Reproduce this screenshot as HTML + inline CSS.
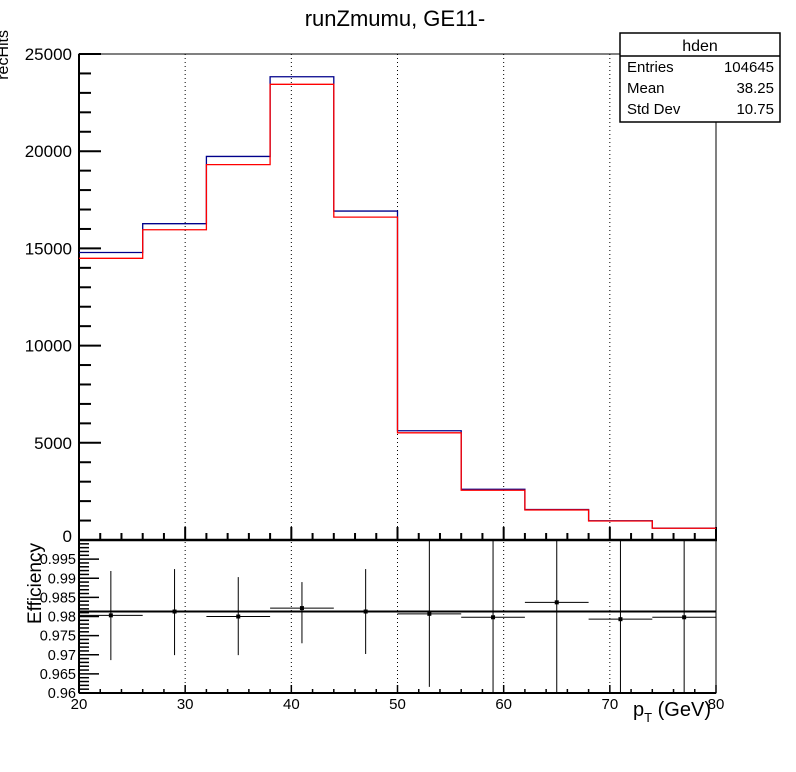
<!DOCTYPE html>
<html><head><meta charset="utf-8"><style>
html,body{margin:0;padding:0;background:#fff;}
svg{display:block;font-family:"Liberation Sans",Arial,sans-serif;}
</style></head><body>
<svg id="c" width="796" height="772" viewBox="0 0 796 772"></svg>
<script>
const binEdges=[20,26,32,38,44,50,56,62,68,74,80];
const denValues=[14790,16270,19730,23830,16920,5620,2610,1570,990,610];
const numValues=[14490,15960,19310,23440,16610,5515,2560,1546,979,603];
const yTicksTop=[0,5000,10000,15000,20000,25000];
const xTicks=[20,30,40,50,60,70,80];
const effX=[23,29,35,41,47,53,59,65,71,77];
const effVal=[0.9803,0.9813,0.9800,0.9822,0.9813,0.9807,0.9798,0.9837,0.9793,0.9798];
const effUp=[0.9919,0.9924,0.9903,0.9890,0.9924,1.0,1.0,1.0,1.0,1.0];
const effLo=[0.9686,0.9699,0.9699,0.9730,0.9702,0.9616,0.96,0.96,0.96,0.96];
const effTicks=[0.96,0.965,0.97,0.975,0.98,0.985,0.99,0.995];
const fitValue=0.9813;

const NS="http://www.w3.org/2000/svg";
const svg=document.getElementById('c');
function el(t,a,p){const e=document.createElementNS(NS,t);for(const k in a)e.setAttribute(k,a[k]);(p||svg).appendChild(e);return e;}
const X0=79,X1=716,T0=54,T1=540,B0=540,B1=693;
const sx=v=>X0+(v-20)/60*(X1-X0);
const sy=v=>T1-v/25000*(T1-T0);
const se=v=>B1-(v-0.96)/0.04*(B1-B0);

let t=el('text',{x:395,y:26,'text-anchor':'middle','font-size':22});t.textContent='runZmumu, GE11-';


const g=el('g',{});

[30,40,50,60,70].forEach(v=>{el('line',{x1:sx(v),x2:sx(v),y1:T0,y2:B1,stroke:'#000','stroke-width':1,'stroke-dasharray':'1,3'},g);});

let f=el('rect',{x:X0,y:T0,width:X1-X0,height:T1-T0,fill:'none',stroke:'#000','stroke-width':1});

const yt=el('g',{});
for(let v=0;v<=25000;v+=1000){const maj=v%5000===0;el('line',{x1:X0,x2:X0+(maj?22:12),y1:sy(v),y2:sy(v),stroke:'#000','stroke-width':2},yt);}
el('line',{x1:X0,x2:X0,y1:T0,y2:T1,stroke:'#000','stroke-width':2},yt);
yTicksTop.forEach(v=>{if(v===0)return;const tt=el('text',{x:X0-7,y:sy(v)+6,'text-anchor':'end','font-size':17},yt);tt.textContent=v;});
let z=el('text',{x:X0-7,y:T1+2,'text-anchor':'end','font-size':17},yt);z.textContent='0';
for(let v=20;v<=80;v+=2){const maj=v%10===0;el('line',{x1:sx(v),x2:sx(v),y1:T1,y2:T1-(maj?13:7),stroke:'#000','stroke-width':2},yt);}
let yl=el('text',{x:0,y:0,'text-anchor':'end','font-size':16,transform:'translate(8,30) rotate(-90)'});yl.textContent='recHits';


function hist(vals,color,name){
  let d='M'+sx(binEdges[0])+','+sy(vals[0]);
  for(let i=0;i<vals.length;i++){
    if(i>0)d+=' L'+sx(binEdges[i])+','+sy(vals[i]);
    d+=' L'+sx(binEdges[i+1])+','+sy(vals[i]);
  }
  const p=el('path',{d:d,fill:'none',stroke:color,'stroke-width':1.3});
  
}
hist(denValues,'#00008b','hden-histogram');
hist(numValues,'#ff0000','hnum-histogram');

const sb=el('g',{});
el('rect',{x:620,y:33,width:160,height:89,fill:'#fff',stroke:'#000','stroke-width':1.5},sb);
el('line',{x1:620,x2:780,y1:56,y2:56,stroke:'#000','stroke-width':1.5},sb);
let st=el('text',{x:700,y:51,'text-anchor':'middle','font-size':16},sb);st.textContent='hden';
[['Entries','104645',74],['Mean','38.25',95],['Std Dev','10.75',116]].forEach(r=>{
 let a=el('text',{x:627,y:r[2]-2,'font-size':15},sb);a.textContent=r[0];
 let b=el('text',{x:774,y:r[2]-2,'text-anchor':'end','font-size':15},sb);b.textContent=r[1];
});

let fb=el('rect',{x:X0,y:B0,width:X1-X0,height:B1-B0,fill:'none',stroke:'#000','stroke-width':1});

el('line',{x1:X0-1,x2:X1+1,y1:B0,y2:B0,stroke:'#000','stroke-width':2.5});
const eb=el('g',{});
for(let i=0;i<=40;i++){const v=0.96+i*0.001;const maj=i%5===0;el('line',{x1:X0,x2:X0+(maj?20:10),y1:se(v),y2:se(v),stroke:'#000','stroke-width':1.5},eb);}
el('line',{x1:X0,x2:X0,y1:B0,y2:B1,stroke:'#000','stroke-width':2},eb);
effTicks.forEach(v=>{const tt=el('text',{x:X0-3,y:se(v)+5,'text-anchor':'end','font-size':14.5},eb);tt.textContent=String(v);});
el('line',{x1:X0,x2:X1,y1:B1,y2:B1,stroke:'#000','stroke-width':2},eb);
for(let v=20;v<=80;v+=2){const maj=v%10===0;el('line',{x1:sx(v),x2:sx(v),y1:B1,y2:B1-(maj?8:4),stroke:'#000','stroke-width':1.5},eb);}
const xl=el('g',{});
xTicks.forEach(v=>{const tt=el('text',{x:sx(v),y:709,'text-anchor':'middle','font-size':15},xl);tt.textContent=v;});
let et=el('text',{x:0,y:0,'text-anchor':'end','font-size':19,transform:'translate(41,543) rotate(-90)'});et.textContent='Efficiency';

let xt=el('text',{x:633,y:716,'font-size':20});xt.innerHTML='p<tspan font-size="13" dy="6">T</tspan><tspan dy="-6"> (GeV)</tspan>';


let fl=el('line',{x1:X0,x2:X1,y1:se(fitValue),y2:se(fitValue),stroke:'#000','stroke-width':2});

effX.forEach((x,i)=>{
 const pg=el('g',{});
 
 
 el('line',{x1:sx(x-3),x2:sx(x+3),y1:se(effVal[i]),y2:se(effVal[i]),stroke:'#000','stroke-width':1},pg);
 el('line',{x1:sx(x),x2:sx(x),y1:se(effUp[i]),y2:se(effLo[i]),stroke:'#000','stroke-width':1},pg);
 el('rect',{x:sx(x)-2,y:se(effVal[i])-2,width:4,height:4,fill:'#000'},pg);
});
</script>
</body></html>
